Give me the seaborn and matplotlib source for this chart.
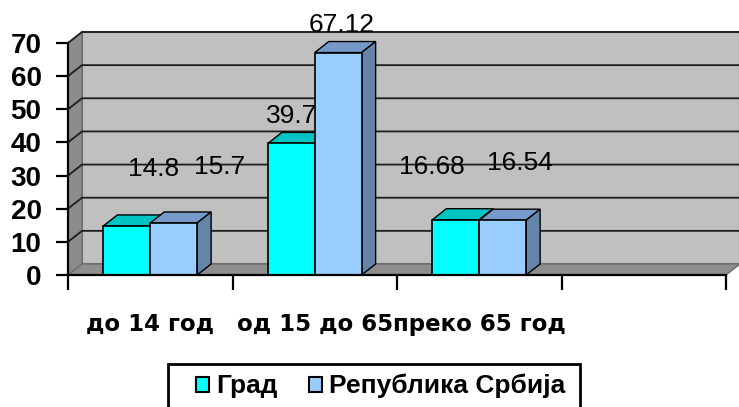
import numpy as np
import pandas as pd
import matplotlib
matplotlib.use('Agg')
import matplotlib.pyplot as plt
import matplotlib.transforms as mtransforms
from matplotlib.patches import Polygon, Rectangle
from matplotlib.lines import Line2D
import seaborn as sns

# Data
categories = ['до 14 год', 'од 15 до 65', 'преко 65 год', ' ']
series = ['Град', 'Република Србија']
grad = [14.8, 39.7, 16.68]
srbija = [15.7, 67.12, 16.54]
y_ticks = [0, 10, 20, 30, 40, 50, 60, 70]

# Styling
front_colors = ['#00FFFF', '#99CCFF']
top_colors = ['#00C4C4', '#7499CA']
side_colors = ['#009A9A', '#6484AA']
# Excel's 3D chart puts its labels oddly: x shift in px, y shift in value units
label_dx = [[27, 0, -24], [46, 3, 17]]
label_dy = [[17.2, 8.3, 15.9], [16.9, 8.3, 17.4]]
DX, DY = 14, 11  # depth of the 3D effect in pixels


def px(ax, x, y, back=False):
    X, Y = ax.transData.transform((x, y))
    if back:
        return (X + DX, Y + DY)
    return (X, Y)


def main() -> None:
    df = pd.DataFrame({
        'category': categories[:3] * 2,
        'series': [series[0]] * 3 + [series[1]] * 3,
        'value': grad + srbija,
    })

    fig = plt.figure(figsize=(7.39, 4.07), dpi=100)
    ax = fig.add_axes([68 / 739, (407 - 275) / 407, 658 / 739, 232 / 407])
    ax.set_facecolor('none')

    sns.barplot(data=df, x='category', y='value', hue='series', order=categories,
                hue_order=series, palette=front_colors, saturation=1, width=0.57,
                edgecolor='black', linewidth=1.2, legend=False, ax=ax, zorder=3)

    ax.set_xlim(-0.5, 3.5)
    ax.set_ylim(0, 70)
    ax.set_autoscale_on(False)
    ident = mtransforms.IdentityTransform()

    # walls and floor
    ax.add_patch(Polygon([px(ax, -0.5, 0, 1), px(ax, 3.5, 0, 1), px(ax, 3.5, 70, 1), px(ax, -0.5, 70, 1)],
                         closed=True, transform=ident, fc='#C0C0C0', ec='#6E6E6E', lw=1.5,
                         zorder=0, clip_on=False))
    ax.add_patch(Polygon([px(ax, -0.5, 0), px(ax, -0.5, 0, 1), px(ax, -0.5, 70, 1), px(ax, -0.5, 70)],
                         closed=True, transform=ident, fc='#8C8C8C', ec='#6E6E6E', lw=1,
                         zorder=0.2, clip_on=False))
    ax.add_patch(Polygon([px(ax, -0.5, 0), px(ax, 3.5, 0), px(ax, 3.5, 0, 1), px(ax, -0.5, 0, 1)],
                         closed=True, transform=ident, fc='#8E8E8E', ec='#6E6E6E', lw=1,
                         zorder=0.2, clip_on=False))
    for v in y_ticks[1:]:
        xs, ys = zip(px(ax, -0.5, v), px(ax, -0.5, v, 1), px(ax, 3.5, v, 1))
        ax.add_line(Line2D(xs, ys, transform=ident, color='#1E1E1E', lw=1.3,
                           zorder=0.5, clip_on=False))

    # 3D faces of bars + value labels
    for i, cont in enumerate(ax.containers):
        for j, bar in enumerate(cont):
            x0 = bar.get_x()
            x1 = x0 + bar.get_width()
            h = bar.get_height()
            top = [px(ax, x0, h), px(ax, x1, h), px(ax, x1, h, 1), px(ax, x0, h, 1)]
            side = [px(ax, x1, 0), px(ax, x1, 0, 1), px(ax, x1, h, 1), px(ax, x1, h)]
            ax.add_patch(Polygon(top, closed=True, transform=ident, fc=top_colors[i],
                                 ec='black', lw=1, zorder=2, clip_on=False))
            ax.add_patch(Polygon(side, closed=True, transform=ident, fc=side_colors[i],
                                 ec='black', lw=1, zorder=2, clip_on=False))
            tr = mtransforms.offset_copy(ax.transData, fig=fig, x=label_dx[i][j], y=0, units='dots')
            ax.text((x0 + x1) / 2, h + label_dy[i][j], f'{h:g}', transform=tr,
                    ha='center', va='center', fontsize=19, family='Liberation Sans',
                    color='black', zorder=5, clip_on=False)

    # axes
    for s in ['top', 'right']:
        ax.spines[s].set_visible(False)
    for s in ['left', 'bottom']:
        ax.spines[s].set_color('black')
        ax.spines[s].set_linewidth(1.6)
        ax.spines[s].set_zorder(4)

    ax.set_yticks(y_ticks)
    ax.set_yticklabels([str(v) for v in y_ticks], fontsize=20, fontweight='bold',
                       family='Liberation Sans')
    ax.tick_params(axis='y', length=9, width=1.6, pad=10, color='black')

    ax.set_xticks(np.arange(-0.5, 4, 1))
    ax.set_xticklabels([])
    ax.set_xticks(range(3), labels=categories[:3], minor=True)
    for lab in ax.get_xticklabels(minor=True):
        lab.set_fontsize(16.5)
        lab.set_fontweight('bold')
        lab.set_family('DejaVu Sans')
    ax.tick_params(axis='x', which='major', length=11, width=1.6, color='black')
    ax.tick_params(axis='x', which='minor', length=0, pad=27)
    ax.set_xlabel('')
    ax.set_ylabel('')

    # legend
    handles = [Rectangle((0, 0), 1, 1, fc=c, ec='black', lw=1.5) for c in front_colors]
    fig.legend(handles, series, loc='upper left', bbox_to_anchor=(196 / 739, 1 - 374 / 407),
               ncol=2, frameon=False, prop=dict(family='Liberation Sans', weight='bold', size=19),
               handlelength=0.5, handleheight=0.5, handletextpad=0.25, columnspacing=1.2,
               borderpad=0, borderaxespad=0)
    fig.add_artist(Rectangle((168 / 739, (407 - 440) / 407), (580 - 168) / 739, 76 / 407,
                             transform=fig.transFigure, fill=False, ec='black', lw=2))

    fig.savefig('out.png', dpi=100)


if __name__ == "__main__":
    main()
